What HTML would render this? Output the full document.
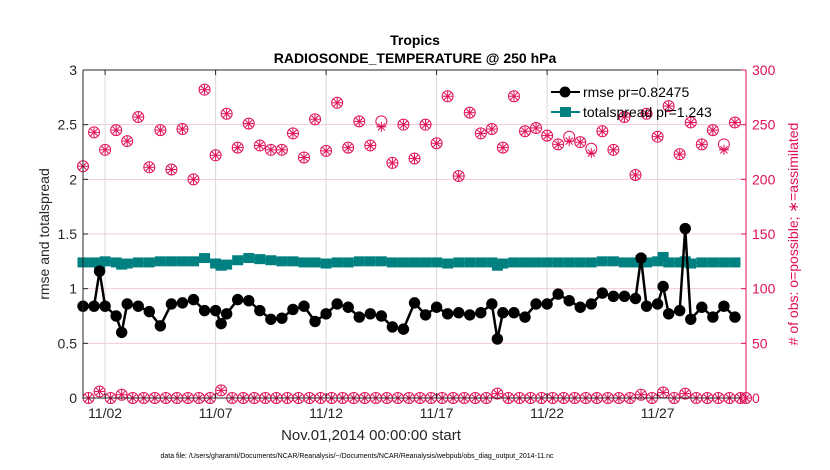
<!DOCTYPE html>
<html><head><meta charset="utf-8"><style>
body{margin:0;background:#fff;}
svg{display:block;font-family:"Liberation Sans",sans-serif;}
</style></head><body>
<svg id="c" width="830" height="470"></svg>
<script>
const rmseDays=[0,0.5,0.75,1,1.5,1.75,2,2.5,3,3.5,4,4.5,5,5.5,6,6.25,6.5,7,7.5,8,8.5,9,9.5,10,10.5,11,11.5,12,12.5,13,13.5,14,14.5,15,15.5,16,16.5,17,17.5,18,18.5,18.75,19,19.5,20,20.5,21,21.5,22,22.5,23,23.5,24,24.5,25,25.25,25.5,26,26.25,26.5,27,27.25,27.5,28,28.5,29,29.5];
const rmseVals=[0.84,0.84,1.16,0.84,0.75,0.60,0.86,0.84,0.79,0.66,0.86,0.87,0.90,0.80,0.80,0.68,0.77,0.90,0.89,0.80,0.72,0.73,0.81,0.84,0.70,0.77,0.86,0.83,0.74,0.77,0.75,0.65,0.63,0.87,0.76,0.83,0.77,0.78,0.76,0.78,0.86,0.54,0.78,0.78,0.74,0.86,0.86,0.95,0.89,0.83,0.86,0.96,0.93,0.93,0.91,1.28,0.84,0.86,1.02,0.77,0.80,1.55,0.72,0.83,0.74,0.84,0.74];
const spreadVals=[1.24,1.24,1.20,1.25,1.24,1.22,1.23,1.24,1.24,1.25,1.25,1.25,1.25,1.28,1.23,1.21,1.22,1.26,1.28,1.27,1.26,1.25,1.25,1.24,1.24,1.23,1.24,1.24,1.25,1.25,1.25,1.24,1.24,1.24,1.24,1.24,1.23,1.24,1.24,1.24,1.24,1.21,1.23,1.24,1.24,1.24,1.24,1.24,1.24,1.24,1.24,1.25,1.25,1.24,1.24,1.26,1.24,1.25,1.29,1.24,1.24,1.25,1.23,1.24,1.24,1.24,1.24];
const obsDays=[0,0.5,1,1.5,2,2.5,3,3.5,4,4.5,5,5.5,6,6.5,7,7.5,8,8.5,9,9.5,10,10.5,11,11.5,12,12.5,13,13.5,14,14.5,15,15.5,16,16.5,17,17.5,18,18.5,19,19.5,20,20.5,21,21.5,22,22.5,23,23.5,24,24.5,25,25.5,26,26.5,27,27.5,28,28.5,29,29.5];
const possibleVals=[212,243,227,245,235,257,211,245,209,246,200,282,222,260,229,251,231,227,227,242,220,255,226,270,229,253,231,253,215,250,219,250,233,276,203,261,242,246,229,276,244,247,240,232,239,234,228,244,227,257,204,260,239,267,223,252,232,245,232,252];
const assimVals=[212,243,227,245,235,257,211,245,209,246,200,282,222,260,229,251,231,227,227,242,220,255,226,270,229,253,231,248,215,250,219,250,233,276,203,261,242,246,229,276,244,247,240,232,235,234,224,244,227,257,204,260,239,267,223,252,232,245,227,252];
const offDays=[];
for(let k=0;k<60;k++){offDays.push(0.25+0.5*k);}
const offPossible=[0,6,0,3,0,0,0,0,0,0,0,0,7,0,0,0,0,0,0,0,0,0,0,0,0,0,0,0,0,0,0,0,0,0,0,0,0,4,0,0,0,0,0,0,0,0,0,0,0,0,3,0,5,0,4,0,0,0,0,0];
const xTicks=[1,6,11,16,21,26];
const xTickLabels=['11/02','11/07','11/12','11/17','11/22','11/27'];
const yTicks=[0,0.5,1,1.5,2,2.5,3];
const yTickLabels=['0','0.5','1','1.5','2','2.5','3'];
const y2TickLabels=['0','50','100','150','200','250','300'];

const L=83,R=746,T=70,B=398;
const xs=d=>L+(R-L)*d/30;
const ys=v=>B-(B-T)*v/3;
const ys2=v=>ys(v/100);
const RED='#e0105a',TEAL='#008080';
const svg=document.getElementById('c');
const NS='http://www.w3.org/2000/svg';
function mk(tag,attrs,parent){const e=document.createElementNS(NS,tag);for(const k in attrs)e.setAttribute(k,attrs[k]);(parent||svg).appendChild(e);return e;}
function txt(s,attrs){const e=mk('text',attrs);e.textContent=s;return e;}

yTicks.forEach((v,i)=>{if(v>0&&v<3){const g=mk('line',{x1:L,x2:R,y1:ys(v),y2:ys(v),stroke:'#f5c8d6','stroke-width':1});

}});
xTicks.forEach(d=>{const g=mk('line',{x1:xs(d),x2:xs(d),y1:T,y2:B,stroke:'#d8d8d8','stroke-width':1});

});

function obsMarker(x,y,asterisk,circle){
  const g=mk('g',{});
  if(circle)mk('circle',{cx:x,cy:y,r:5.5,fill:'none',stroke:RED,'stroke-width':1},g);
  if(asterisk){for(let a=0;a<4;a++){const an=a*Math.PI/4;mk('line',{x1:x-5*Math.cos(an),y1:y-5*Math.sin(an),x2:x+5*Math.cos(an),y2:y+5*Math.sin(an),stroke:RED,'stroke-width':1},g);}}
  return g;
}
obsDays.forEach((d,i)=>{
  const c=obsMarker(xs(d),ys2(possibleVals[i]),false,true);
  
  
  const a=obsMarker(xs(d),ys2(assimVals[i]),true,false);
  
  
});
offDays.forEach((d,i)=>{
  const c=obsMarker(xs(d),ys2(offPossible[i]),true,true);
  
  
});
const lastObs=obsMarker(xs(30),ys2(0),true,true);



const sp=mk('polyline',{points:rmseDays.map((d,i)=>xs(d)+','+ys(spreadVals[i])).join(' '),fill:'none',stroke:TEAL,'stroke-width':2.5});


rmseDays.forEach((d,i)=>{const r=mk('rect',{x:xs(d)-5.5,y:ys(spreadVals[i])-5,width:11,height:10,fill:TEAL});

});
const rl=mk('polyline',{points:rmseDays.map((d,i)=>xs(d)+','+ys(rmseVals[i])).join(' '),fill:'none',stroke:'#000','stroke-width':2.5});


rmseDays.forEach((d,i)=>{const c=mk('circle',{cx:xs(d),cy:ys(rmseVals[i]),r:5.7,fill:'#000'});

});

const ax=mk('path',{d:`M${L},${T}H${R}M${L},${T}V${B}H${R}`,fill:'none',stroke:'#262626','stroke-width':1});


const rax=mk('line',{x1:R,x2:R,y1:T,y2:B,stroke:RED,'stroke-width':1});


yTicks.forEach((v,i)=>{
  mk('line',{x1:L,x2:L+5,y1:ys(v),y2:ys(v),stroke:'#262626'});
  mk('line',{x1:R-5,x2:R,y1:ys(v),y2:ys(v),stroke:RED});
  const t=txt(yTickLabels[i],{x:L-6,y:ys(v)+5,'text-anchor':'end','font-size':14,fill:'#262626'});
  
  
  const t2=txt(y2TickLabels[i],{x:R+6,y:ys(v)+5,'font-size':14,fill:RED});
  
  
});
xTicks.forEach((d,i)=>{
  mk('line',{x1:xs(d),x2:xs(d),y1:B,y2:B-5,stroke:'#262626'});
  mk('line',{x1:xs(d),x2:xs(d),y1:T,y2:T+5,stroke:'#262626'});
  const t=txt(xTickLabels[i],{x:xs(d),y:418,'text-anchor':'middle','font-size':14,fill:'#262626'});
  
  
});

let t;
t=txt('Tropics',{x:415,y:45,'text-anchor':'middle','font-size':14,'font-weight':'bold',fill:'#000'});

t=txt('RADIOSONDE_TEMPERATURE @ 250 hPa',{x:415,y:63,'text-anchor':'middle','font-size':14,'font-weight':'bold',fill:'#000'});

t=txt('Nov.01,2014 00:00:00 start',{x:371,y:440,'text-anchor':'middle','font-size':15,fill:'#262626'});

t=txt('data file: /Users/gharamti/Documents/NCAR/Reanalysis/~/Documents/NCAR/Reanalysis/webpub/obs_diag_output_2014-11.nc',{x:357,y:458,'text-anchor':'middle','font-size':7,fill:'#000'});

t=txt('rmse and totalspread',{x:0,y:0,'text-anchor':'middle','font-size':14,fill:'#262626',transform:'translate(49,234) rotate(-90)'});

t=txt('# of obs: o=possible; \u2217=assimilated',{x:0,y:0,'text-anchor':'middle','font-size':14,fill:RED,transform:'translate(798,234) rotate(-90)'});


const lg=mk('g',{});


mk('line',{x1:551,x2:580,y1:92,y2:92,stroke:'#000','stroke-width':2},lg);
mk('circle',{cx:565,cy:92,r:5.5,fill:'#000'},lg);
const l1=mk('text',{x:583,y:97,'font-size':14,fill:'#000'},lg);l1.textContent='rmse pr=0.82475';

mk('line',{x1:551,x2:580,y1:112,y2:112,stroke:TEAL,'stroke-width':2},lg);
mk('rect',{x:560,y:107,width:11,height:10,fill:TEAL},lg);
const l2=mk('text',{x:583,y:117,'font-size':14,fill:'#000'},lg);l2.textContent='totalspread pr=1.243';

</script>
</body></html>
